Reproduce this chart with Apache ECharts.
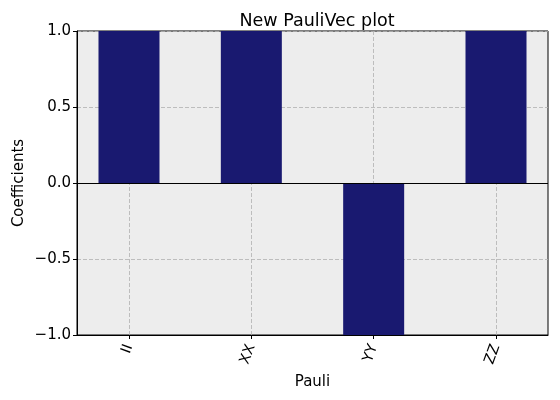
<!DOCTYPE html>
<html><head><meta charset="utf-8">
<script src="https://cdn.jsdelivr.net/npm/echarts@6/dist/echarts.min.js"></script>
<style>html,body{margin:0;padding:0;background:#fff}#c{width:560px;height:400px}</style>
</head><body><div id="c"></div>
<script>
const categories = ["II", "XX", "YY", "ZZ"];
const positions = [0, 1, 2, 3];
const coefficients = [1, 1, -1, 1];

const chart = echarts.init(document.getElementById('c'));
const font = 'DejaVu Sans';
chart.setOption({
  animation: false,
  title: {
    text: 'New PauliVec plot', left: 312, top: 7, textAlign: 'center',
    textStyle: {fontFamily: font, fontSize: 17.5, fontWeight: 'normal', color: '#000'}
  },
  grid: {
    left: 77, right: 12, top: 31, bottom: 65, show: true, outerBoundsMode: 'none', containLabel: false,
    backgroundColor: '#ededed', borderColor: '#000', borderWidth: 1
  },
  xAxis: {
    type: 'value', min: -0.425, max: 3.425,
    name: 'Pauli', nameLocation: 'middle', nameGap: 40, nameMoveOverlap: false,
    nameTextStyle: {fontFamily: font, fontSize: 15, color: '#000'},
    axisLine: {show: true, onZero: false, lineStyle: {color: '#000'}},
    axisTick: {show: true, customValues: positions, length: 4, lineStyle: {color: '#000'}},
    axisLabel: {
      customValues: positions, rotate: 70, fontFamily: font, fontSize: 14.5, color: '#000', margin: 10,
      formatter: v => categories[Math.round(v)]
    },
    splitLine: {show: true, lineStyle: {color: '#b0b0b0', type: [4, 2], width: 0.8}}
  },
  yAxis: {
    type: 'value', min: -1, max: 1, interval: 0.5,
    name: 'Coefficients', nameLocation: 'middle', nameGap: 50, nameMoveOverlap: false,
    nameTextStyle: {fontFamily: font, fontSize: 15, color: '#000'},
    axisLine: {show: true, onZero: false, lineStyle: {color: '#000'}},
    axisTick: {show: true, length: 4, lineStyle: {color: '#000'}},
    axisLabel: {fontFamily: font, fontSize: 15, color: '#000', margin: 6,
      formatter: v => (v < 0 ? '\u2212' : '') + Math.abs(v).toFixed(1)},
    splitLine: {show: true, lineStyle: {color: '#b0b0b0', type: [4, 2], width: 0.8}}
  },
  series: [{
    type: 'bar',
    data: positions.map((p, i) => [p, coefficients[i]]),
    barWidth: 61,
    itemStyle: {color: '#191970'},
    markLine: {
      silent: true, symbol: 'none', label: {show: false},
      lineStyle: {color: '#000', type: 'solid', width: 1},
      data: [{yAxis: 0}]
    }
  }]
});
</script></body></html>
